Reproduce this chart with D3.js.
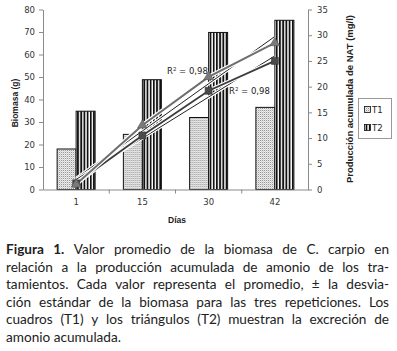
<!DOCTYPE html>
<html>
<head>
<meta charset="utf-8">
<script src="https://cdn.jsdelivr.net/npm/d3@7"></script>
<style>
  body { margin: 0; background: #fff; }
</style>
</head>
<body>
<svg id="chart" width="397" height="351"></svg>
<script>
// data
const days       = ["1", "15", "30", "42"]
const biomasaT1  = [18, 24.5, 32, 36.5]
const biomasaT2  = [34.8, 48.8, 69.8, 75.2]
const natT1      = [1.2, 10.5, 19.2, 25]
const natT2      = [1, 12.5, 21.9, 28.5]
const leftTicks  = [0, 10, 20, 30, 40, 50, 60, 70, 80]
const rightTicks = [0, 5, 10, 15, 20, 25, 30, 35]
const series     = ["T1", "T2"]

const captionLines = [
  [["Figura 1.", true], ["Valor promedio de la biomasa de C. carpio en", false]],
  [["relación a la producción acumulada de amonio de los tra-", false]],
  [["tamientos. Cada valor representa el promedio, ± la desvia-", false]],
  [["ción estándar de la biomasa para las tres repeticiones. Los", false]],
  [["cuadros (T1) y los triángulos (T2) muestran la excreción de", false]],
  [["amonio acumulada.", false]]
]

const svg = d3.select("#chart")
const axisColor = "#8a8a8a"
const tickFont = "DejaVu Sans, Verdana, sans-serif"

// patterns for the bars
const defs = svg.append("defs")
const dots = defs.append("pattern").attr("id", "dots")
  .attr("patternUnits", "userSpaceOnUse").attr("width", 2).attr("height", 2)
dots.append("rect").attr("width", 2).attr("height", 2).attr("fill", "#f2f2f2")
dots.append("rect").attr("width", 1).attr("height", 1).attr("fill", "#8c8c8c")
dots.append("rect").attr("x", 1).attr("y", 1).attr("width", 1).attr("height", 1).attr("fill", "#d0d0d0")

const stripes = defs.append("pattern").attr("id", "stripes")
  .attr("patternUnits", "userSpaceOnUse").attr("width", 3.2).attr("height", 4)
stripes.append("rect").attr("width", 3.2).attr("height", 4).attr("fill", "#fff")
stripes.append("rect").attr("x", 0.8).attr("width", 1.8).attr("height", 4).attr("fill", "#111")

const fills = {T1: "url(#dots)", T2: "url(#stripes)"}

// scales
const x  = d3.scaleBand().domain(days).range([43, 308])
const xs = d3.scaleBand().domain(series).range([0, 38])
const y1 = d3.scaleLinear().domain([0, 80]).range([189.5, 9.5])
const y2 = d3.scaleLinear().domain([0, 35]).range([189.5, 9.5])

// bars
const barData = days.map((d, i) => ({day: d, T1: biomasaT1[i], T2: biomasaT2[i]}))
svg.append("g").selectAll("g")
  .data(barData)
  .join("g")
  .attr("transform", d => `translate(${x(d.day) + (x.bandwidth() - 38) / 2},0)`)
  .selectAll("rect")
  .data(d => series.map(s => ({s, v: d[s]})))
  .join("rect")
  .attr("x", d => xs(d.s))
  .attr("y", d => y1(d.v))
  .attr("width", xs.bandwidth())
  .attr("height", d => y1(0) - y1(d.v))
  .attr("fill", d => fills[d.s])
  .attr("stroke", "#111")
  .attr("stroke-width", 1)

// axes
function styleAxis(g) {
  g.selectAll(".domain").attr("stroke", axisColor)
  g.selectAll(".tick line").attr("stroke", axisColor)
  g.selectAll(".tick text").attr("fill", "#333")
    .style("font-family", tickFont).style("font-size", "8.5px")
}

svg.append("g").attr("transform", "translate(43,0)")
  .call(d3.axisLeft(y1).tickValues(leftTicks).tickSize(4).tickSizeOuter(0).tickPadding(4))
  .call(styleAxis)

svg.append("g").attr("transform", "translate(308,0)")
  .call(d3.axisRight(y2).tickValues(rightTicks).tickSize(4).tickSizeOuter(0).tickPadding(5))
  .call(styleAxis)

const xAxis = svg.append("g").attr("transform", "translate(0,189.5)")
  .call(d3.axisBottom(x).tickSize(0).tickPadding(9))
  .call(styleAxis)
// category boundary ticks like the original
xAxis.selectAll(".sep")
  .data(days.slice(1))
  .join("line")
  .attr("class", "sep")
  .attr("x1", d => x(d)).attr("x2", d => x(d))
  .attr("y1", 0).attr("y2", 4)
  .attr("stroke", axisColor)

// lines: series + linear trend (Excel style, over category index)
function trend(vals) {
  const xi = vals.map((v, i) => i + 1)
  const mx = d3.mean(xi), my = d3.mean(vals)
  const b = d3.sum(xi, (v, i) => (v - mx) * (vals[i] - my)) / d3.sum(xi, v => (v - mx) ** 2)
  const a = my - b * mx
  return xi.map(v => a + b * v)
}

const cx = d => x(d) + x.bandwidth() / 2
const line = d3.line().x(d => cx(d.day)).y(d => y2(d.v))
const toPts = vals => vals.map((v, i) => ({day: days[i], v}))

const lineSets = [
  {pts: toPts(trend(natT2)), color: "#222", w: 1},
  {pts: toPts(trend(natT1)), color: "#222", w: 1},
  {pts: toPts(natT1), color: "#3c3c3c", w: 1.8},
  {pts: toPts(natT2), color: "#6e6e6e", w: 2}
]
const lg = svg.append("g")
lineSets.forEach(l => {
  lg.append("path").datum(l.pts).attr("d", line)
    .attr("fill", "none").attr("stroke", "#fff").attr("stroke-width", l.w + 2.2)
  lg.append("path").datum(l.pts).attr("d", line)
    .attr("fill", "none").attr("stroke", l.color).attr("stroke-width", l.w)
})

// markers
svg.append("g").selectAll("path")
  .data(toPts(natT1))
  .join("path")
  .attr("d", d3.symbol(d3.symbolSquare, 48))
  .attr("transform", d => `translate(${cx(d.day)},${y2(d.v)})`)
  .attr("fill", "#4a4a4a").attr("stroke", "#333").attr("stroke-width", 0.6)

svg.append("g").selectAll("path")
  .data(toPts(natT2))
  .join("path")
  .attr("d", d3.symbol(d3.symbolTriangle, 40))
  .attr("transform", d => `translate(${cx(d.day)},${y2(d.v)})`)
  .attr("fill", "#7a7a7a").attr("stroke", "#555").attr("stroke-width", 0.6)

// R² labels
function r2Label(xp, yp) {
  const t = svg.append("text").attr("x", xp).attr("y", yp)
    .style("font-family", tickFont).style("font-size", "8.5px").attr("fill", "#222")
  t.append("tspan").text("R")
  t.append("tspan").attr("dy", -3).style("font-size", "5.5px").text("2")
  t.append("tspan").attr("dy", 3).text(" = 0,98")
}
r2Label(167, 74)
r2Label(229, 94)

// axis titles
svg.append("text")
  .attr("transform", "translate(18,103) rotate(-90)")
  .attr("text-anchor", "middle")
  .style("font-family", "Liberation Sans, Arial, sans-serif")
  .style("font-size", "8.5px").style("font-weight", "bold").attr("fill", "#222")
  .text("Biomasa (g)")

svg.append("text")
  .attr("transform", "translate(353,99) rotate(-90)")
  .attr("text-anchor", "middle")
  .attr("textLength", 168).attr("lengthAdjust", "spacingAndGlyphs")
  .style("font-family", "Liberation Sans, Arial, sans-serif")
  .style("font-size", "8.5px").style("font-weight", "bold").attr("fill", "#222")
  .text("Producción acumulada de NAT (mg/l)")

svg.append("text")
  .attr("x", 177).attr("y", 223)
  .attr("text-anchor", "middle")
  .style("font-family", "Liberation Sans, Arial, sans-serif")
  .style("font-size", "8.5px").style("font-weight", "bold").attr("fill", "#222")
  .text("Días")

// legend
const leg = svg.append("g")
leg.append("rect").attr("x", 358.5).attr("y", 98.5).attr("width", 33).attr("height", 40)
  .attr("fill", "#fff").attr("stroke", "#999")
series.forEach((s, i) => {
  const yy = 110 + i * 18
  leg.append("rect").attr("x", 364.5).attr("y", yy - 3.5).attr("width", 6).attr("height", 6)
    .attr("fill", fills[s]).attr("stroke", "#111").attr("stroke-width", 0.8)
  leg.append("text").attr("x", 372).attr("y", yy + 3.2)
    .style("font-family", tickFont).style("font-size", "8.5px").attr("fill", "#222")
    .text(s)
})

// caption, justified word by word
const capLeft = 6, capRight = 389, capTop = 254, capStep = 17.6
const capFont = "Lato, 'Open Sans', sans-serif"
const cap = svg.append("g").style("font-family", capFont).style("font-size", "13.6px").attr("fill", "#222")

captionLines.forEach((segs, li) => {
  const words = []
  segs.forEach(([txt, bold]) => txt.split(" ").forEach(w => words.push({w, bold})))
  const nodes = words.map(d => cap.append("text")
    .attr("y", capTop + li * capStep)
    .style("font-weight", d.bold ? "bold" : "normal")
    .text(d.w))
  const widths = nodes.map(n => n.node().getComputedTextLength())
  const total = d3.sum(widths)
  const last = li === captionLines.length - 1
  const gap = last ? 3.6 : (capRight - capLeft - total) / (words.length - 1)
  let xp = capLeft
  nodes.forEach((n, i) => {
    n.attr("x", xp)
    xp += widths[i] + gap
  })
})
</script>
</body>
</html>
